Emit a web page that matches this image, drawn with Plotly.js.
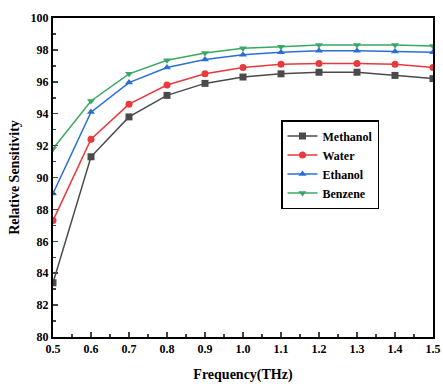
<!DOCTYPE html>
<html><head><meta charset="utf-8">
<script src="https://cdn.plot.ly/plotly-3.0.1.min.js"></script>
<style>html,body{margin:0;padding:0;background:#fff}#c{width:443px;height:384px}</style>
</head><body><div id="c"></div>
<script>
const freq = [0.5,0.6,0.7,0.8,0.9,1.0,1.1,1.2,1.3,1.4,1.5];
const methanol = [83.4,91.3,93.8,95.15,95.9,96.3,96.5,96.6,96.6,96.4,96.2];
const water = [87.3,92.4,94.6,95.8,96.5,96.9,97.1,97.15,97.15,97.1,96.9];
const ethanol = [89.0,94.1,95.95,96.9,97.4,97.7,97.85,97.95,97.95,97.9,97.85];
const benzene = [91.8,94.8,96.5,97.35,97.8,98.1,98.2,98.3,98.3,98.3,98.25];
const names = ['Methanol','Water','Ethanol','Benzene'];
const series = [methanol, water, ethanol, benzene];
const colors = ['#4a4a4a','#e8393b','#2b6fd6','#3aa864'];
const symbols = ['square','circle','triangle-up','triangle-down'];
const traces = series.map((s,i)=>({
  x: freq, y: s, name: names[i], type:'scatter', mode:'lines+markers',
  line:{color:colors[i], width:1.5},
  marker:{symbol:symbols[i], size:7, color:colors[i]}
}));
const font = {family:'"Liberation Serif","Times New Roman",serif', color:'#000'};
Plotly.newPlot('c', traces, {
  width:443, height:384,
  margin:{l:53,r:10,t:18,b:47},
  paper_bgcolor:'#fff', plot_bgcolor:'#fff',
  font:Object.assign({size:11}, font),
  showlegend:true,
  legend:{x:0.6, y:0.68, xanchor:'left', yanchor:'top', bordercolor:'#000', borderwidth:1.5,
    bgcolor:'#fff', font:Object.assign({size:12, weight:'bold'}, font), tracegroupgap:0, itemwidth:30},
  xaxis:{range:[0.5,1.5], dtick:0.1, tick0:0.5, tickformat:'.1f', ticks:'inside', ticklen:5, tickwidth:1.5,
    showline:true, linewidth:2, linecolor:'#000', mirror:true, showgrid:false, zeroline:false,
    minor:{dtick:0.05, ticks:'inside', ticklen:3, tickwidth:1.5, showgrid:false},
    tickfont:Object.assign({size:12, weight:'bold'}, font),
    title:{text:'Frequency(THz)', font:Object.assign({size:14, weight:'bold'}, font), standoff:14}},
  yaxis:{range:[80,100], dtick:2, ticks:'inside', ticklen:5, tickwidth:1.5,
    showline:true, linewidth:2, linecolor:'#000', mirror:true, showgrid:false, zeroline:false,
    minor:{dtick:1, ticks:'inside', ticklen:3, tickwidth:1.5, showgrid:false},
    tickfont:Object.assign({size:12, weight:'bold'}, font),
    title:{text:'Relative Sensitivity', font:Object.assign({size:14, weight:'bold'}, font), standoff:8}}
}, {displayModeBar:false, staticPlot:true});
</script></body></html>
